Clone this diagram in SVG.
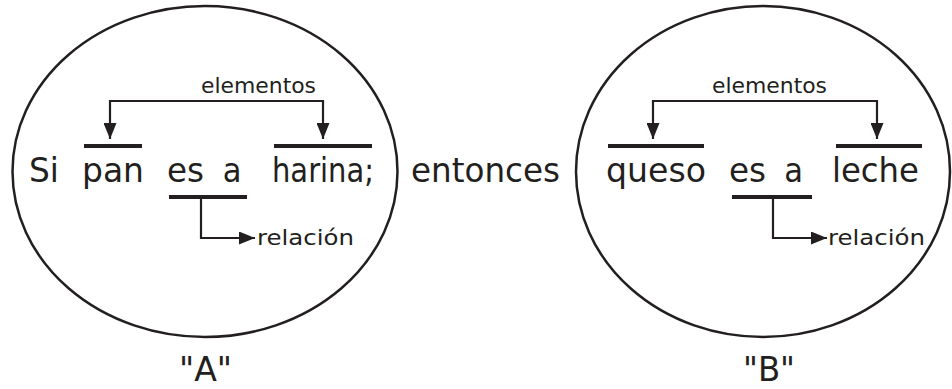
<svg xmlns="http://www.w3.org/2000/svg" width="952" height="389" viewBox="0 0 952 389">
<style>
.big{font-family:"DejaVu Sans Condensed","DejaVu Sans",sans-serif;font-size:34px;fill:#231f20;text-anchor:middle}
.small{font-family:"DejaVu Sans Condensed","DejaVu Sans",sans-serif;font-size:22px;fill:#231f20;text-anchor:middle}
.oval{fill:none;stroke:#231f20;stroke-width:2.5}
.bar{stroke:#231f20;stroke-width:4;fill:none}
.conn{stroke:#231f20;stroke-width:2.2;fill:none}
</style>
<defs>
<marker id="ah" markerUnits="userSpaceOnUse" markerWidth="17" markerHeight="13" refX="16" refY="6.5" orient="auto-start-reverse">
<path d="M0,0 L16,6.5 L0,13 z" fill="#231f20"/>
</marker>
</defs>
<g id="nodeA">
<ellipse class="oval" cx="205" cy="171.5" rx="192.5" ry="165.5"/>
<text class="big" x="44" y="182" textLength="30" lengthAdjust="spacingAndGlyphs">Si</text>
<text class="big" x="113" y="182" textLength="62" lengthAdjust="spacingAndGlyphs">pan</text>
<text class="big" x="185.5" y="182" textLength="37" lengthAdjust="spacingAndGlyphs">es</text>
<text class="big" x="232" y="182" font-size="33">a</text>
<text class="big" x="323" y="182" textLength="102" lengthAdjust="spacingAndGlyphs">harina;</text>
<line class="bar" x1="84" y1="146" x2="142" y2="146"/>
<line class="bar" x1="274" y1="146" x2="372" y2="146"/>
<line class="bar" x1="169" y1="197" x2="247" y2="197"/>
<text class="small" x="258.5" y="93" textLength="115" lengthAdjust="spacingAndGlyphs">elementos</text>
<text class="small" x="305.5" y="245" textLength="97" lengthAdjust="spacingAndGlyphs">relación</text>
<text class="big" x="205.5" y="381" textLength="53" lengthAdjust="spacingAndGlyphs">"A"</text>
</g>
<g id="entonces">
<text class="big" x="485.5" y="182" textLength="149" lengthAdjust="spacingAndGlyphs">entonces</text>
</g>
<g id="nodeB">
<ellipse class="oval" cx="763" cy="171.5" rx="187" ry="165.5"/>
<text class="big" x="656" y="182" textLength="100" lengthAdjust="spacingAndGlyphs">queso</text>
<text class="big" x="747.5" y="182" textLength="37" lengthAdjust="spacingAndGlyphs">es</text>
<text class="big" x="793.5" y="182" font-size="33">a</text>
<text class="big" x="875.5" y="182" textLength="87" lengthAdjust="spacingAndGlyphs">leche</text>
<line class="bar" x1="608" y1="146" x2="704" y2="146"/>
<line class="bar" x1="836" y1="146" x2="922" y2="146"/>
<line class="bar" x1="732" y1="197" x2="812" y2="197"/>
<text class="small" x="769.5" y="93" textLength="115" lengthAdjust="spacingAndGlyphs">elementos</text>
<text class="small" x="876.5" y="245" textLength="97" lengthAdjust="spacingAndGlyphs">relación</text>
<text class="big" x="769" y="381" textLength="52" lengthAdjust="spacingAndGlyphs">"B"</text>
</g>
<g id="connectors">
<path class="conn" d="M110,139 V101 H323 V139" marker-start="url(#ah)" marker-end="url(#ah)"/>
<path class="conn" d="M201,197 V238 H255" marker-end="url(#ah)"/>
<path class="conn" d="M653,139 V101 H877 V139" marker-start="url(#ah)" marker-end="url(#ah)"/>
<path class="conn" d="M773,197 V238 H827" marker-end="url(#ah)"/>
</g>
</svg>
